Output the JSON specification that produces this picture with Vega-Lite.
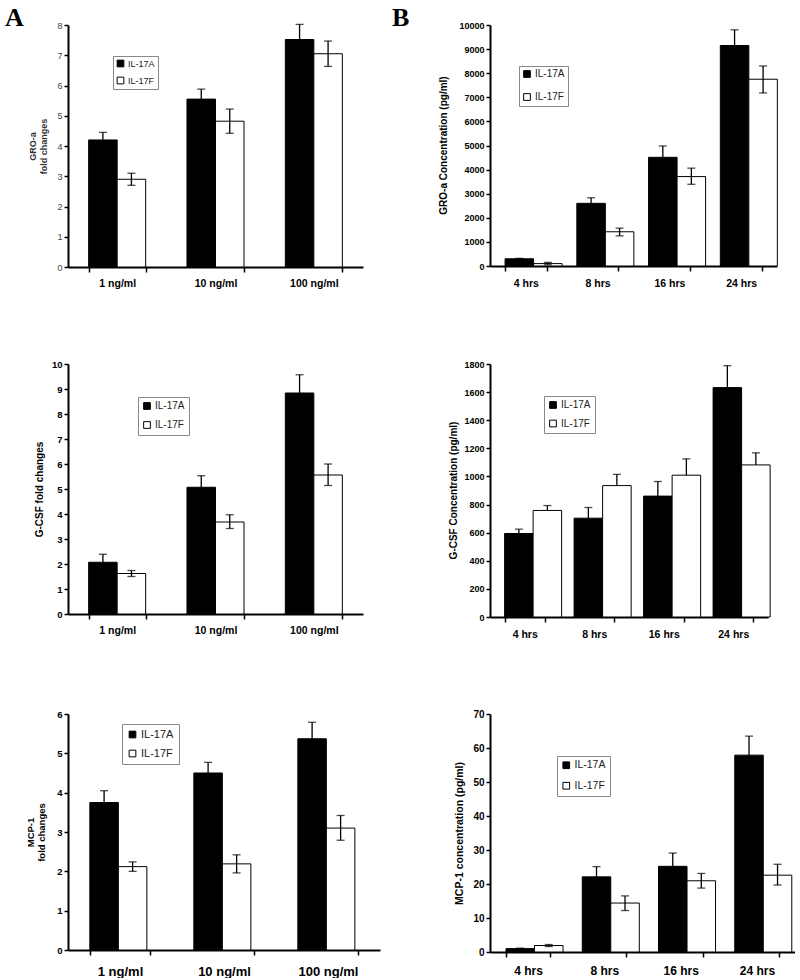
{
  "$schema": "https://vega.github.io/schema/vega-lite/v6.json",
  "autosize": {"type": "pad"},
  "padding": {"left": 5, "top": 5, "right": 0, "bottom": 0},
  "background": "white",
  "data": {"values": [
    {"panel": "A1", "cat": "1 ng/ml", "series": "IL-17A", "value": 4.2, "lo": 3.95, "hi": 4.45},
    {"panel": "A1", "cat": "1 ng/ml", "series": "IL-17F", "value": 2.9, "lo": 2.7, "hi": 3.1},
    {"panel": "A1", "cat": "10 ng/ml", "series": "IL-17A", "value": 5.55, "lo": 5.22, "hi": 5.88},
    {"panel": "A1", "cat": "10 ng/ml", "series": "IL-17F", "value": 4.82, "lo": 4.42, "hi": 5.22},
    {"panel": "A1", "cat": "100 ng/ml", "series": "IL-17A", "value": 7.52, "lo": 7.02, "hi": 8.02},
    {"panel": "A1", "cat": "100 ng/ml", "series": "IL-17F", "value": 7.05, "lo": 6.63, "hi": 7.47},
    {"panel": "B1", "cat": "4 hrs", "series": "IL-17A", "value": 300, "lo": 280, "hi": 320},
    {"panel": "B1", "cat": "4 hrs", "series": "IL-17F", "value": 100, "lo": 50, "hi": 150},
    {"panel": "B1", "cat": "8 hrs", "series": "IL-17A", "value": 2600, "lo": 2370, "hi": 2830},
    {"panel": "B1", "cat": "8 hrs", "series": "IL-17F", "value": 1420, "lo": 1250, "hi": 1570},
    {"panel": "B1", "cat": "16 hrs", "series": "IL-17A", "value": 4510, "lo": 4040, "hi": 4980},
    {"panel": "B1", "cat": "16 hrs", "series": "IL-17F", "value": 3710, "lo": 3390, "hi": 4060},
    {"panel": "B1", "cat": "24 hrs", "series": "IL-17A", "value": 9150, "lo": 8500, "hi": 9800},
    {"panel": "B1", "cat": "24 hrs", "series": "IL-17F", "value": 7750, "lo": 7180, "hi": 8300},
    {"panel": "A2", "cat": "1 ng/ml", "series": "IL-17A", "value": 2.07, "lo": 1.75, "hi": 2.39},
    {"panel": "A2", "cat": "1 ng/ml", "series": "IL-17F", "value": 1.62, "lo": 1.5, "hi": 1.74},
    {"panel": "A2", "cat": "10 ng/ml", "series": "IL-17A", "value": 5.07, "lo": 4.61, "hi": 5.53},
    {"panel": "A2", "cat": "10 ng/ml", "series": "IL-17F", "value": 3.68, "lo": 3.42, "hi": 3.97},
    {"panel": "A2", "cat": "100 ng/ml", "series": "IL-17A", "value": 8.84, "lo": 8.11, "hi": 9.57},
    {"panel": "A2", "cat": "100 ng/ml", "series": "IL-17F", "value": 5.56, "lo": 5.14, "hi": 6.0},
    {"panel": "B2", "cat": "4 hrs", "series": "IL-17A", "value": 594, "lo": 594, "hi": 625},
    {"panel": "B2", "cat": "4 hrs", "series": "IL-17F", "value": 758, "lo": 758, "hi": 793},
    {"panel": "B2", "cat": "8 hrs", "series": "IL-17A", "value": 703, "lo": 703, "hi": 779},
    {"panel": "B2", "cat": "8 hrs", "series": "IL-17F", "value": 935, "lo": 935, "hi": 1015},
    {"panel": "B2", "cat": "16 hrs", "series": "IL-17A", "value": 860, "lo": 860, "hi": 964},
    {"panel": "B2", "cat": "16 hrs", "series": "IL-17F", "value": 1009, "lo": 1009, "hi": 1125},
    {"panel": "B2", "cat": "24 hrs", "series": "IL-17A", "value": 1632, "lo": 1632, "hi": 1788},
    {"panel": "B2", "cat": "24 hrs", "series": "IL-17F", "value": 1082, "lo": 1082, "hi": 1168},
    {"panel": "A3", "cat": "1 ng/ml", "series": "IL-17A", "value": 3.75, "lo": 3.45, "hi": 4.05},
    {"panel": "A3", "cat": "1 ng/ml", "series": "IL-17F", "value": 2.12, "lo": 2.0, "hi": 2.24},
    {"panel": "A3", "cat": "10 ng/ml", "series": "IL-17A", "value": 4.5, "lo": 4.23, "hi": 4.77},
    {"panel": "A3", "cat": "10 ng/ml", "series": "IL-17F", "value": 2.19, "lo": 1.96, "hi": 2.42},
    {"panel": "A3", "cat": "100 ng/ml", "series": "IL-17A", "value": 5.37, "lo": 4.95, "hi": 5.79},
    {"panel": "A3", "cat": "100 ng/ml", "series": "IL-17F", "value": 3.1, "lo": 2.79, "hi": 3.42},
    {"panel": "B3", "cat": "4 hrs", "series": "IL-17A", "value": 1.0, "lo": 0.9, "hi": 1.1},
    {"panel": "B3", "cat": "4 hrs", "series": "IL-17F", "value": 1.9, "lo": 1.6, "hi": 2.2},
    {"panel": "B3", "cat": "8 hrs", "series": "IL-17A", "value": 22.1, "lo": 19.1, "hi": 25.1},
    {"panel": "B3", "cat": "8 hrs", "series": "IL-17F", "value": 14.4, "lo": 12.2, "hi": 16.5},
    {"panel": "B3", "cat": "16 hrs", "series": "IL-17A", "value": 25.2, "lo": 21.3, "hi": 29.1},
    {"panel": "B3", "cat": "16 hrs", "series": "IL-17F", "value": 20.95, "lo": 18.8, "hi": 23.1},
    {"panel": "B3", "cat": "24 hrs", "series": "IL-17A", "value": 57.9, "lo": 52.3, "hi": 63.5},
    {"panel": "B3", "cat": "24 hrs", "series": "IL-17F", "value": 22.6, "lo": 19.7, "hi": 25.8}
  ]},
  "columns": 2,
  "bounds": "flush",
  "align": "each",
  "spacing": {"row": 97, "column": 110},
  "resolve": {"scale": {"fill": "independent"}, "legend": {"fill": "independent"}},
  "concat": [
    {
      "width": 295, "height": 242,
      "title": {"text": "A", "anchor": "start", "frame": "group", "font": "Liberation Serif", "fontSize": 26, "fontWeight": "bold", "color": "black", "dx": -63, "offset": 0, "dy": 31, "baseline": "alphabetic"},
      "transform": [{"filter": "datum.panel === 'A1'"}],
      "encoding": {
        "x": {"field": "cat", "type": "nominal", "sort": ["1 ng/ml", "10 ng/ml", "100 ng/ml"], "scale": {"paddingInner": 0.42, "paddingOuter": 0.21},
              "axis": {"title": null, "tickBand": "extent", "tickSize": 5, "labelAngle": 0, "labelFontWeight": "bold", "labelFontSize": 10.5, "labelPadding": 6}},
        "xOffset": {"field": "series", "type": "nominal", "scale": {"paddingInner": 0, "paddingOuter": 0}}
      },
      "layer": [
        {"mark": {"type": "bar", "stroke": "black", "strokeWidth": 1},
         "encoding": {
           "y": {"field": "value", "type": "quantitative", "scale": {"domain": [0, 8], "nice": false},
                 "axis": {"values": [0,1,2,3,4,5,6,7,8], "labelOverlap": false, "title": ["GRO-a", "fold changes"], "titleX": -36, "titleY": 121, "titleBaseline": "middle", "titleFontSize": 9, "titleFontWeight": "bold", "titleColor": "#333", "labelFontSize": 9, "labelColor": "#444", "labelFontWeight": "normal"}},
           "fill": {"field": "series", "type": "nominal", "scale": {"domain": ["IL-17A", "IL-17F"], "range": ["black", "white"]},
                    "legend": {"orient": "none", "legendX": 45, "legendY": 31, "labelFontSize": 9, "rowPadding": 6, "padding": 3}}
         }},
        {"mark": {"type": "rule", "color": "black", "strokeWidth": 1.3}, "encoding": {"y": {"field": "lo", "type": "quantitative", "axis": {"values": [0,1,2,3,4,5,6,7,8], "labelOverlap": false, "title": ["GRO-a", "fold changes"], "titleX": -36, "titleY": 121, "titleBaseline": "middle", "titleFontSize": 9, "titleFontWeight": "bold", "titleColor": "#333", "labelFontSize": 9, "labelColor": "#444", "labelFontWeight": "normal"}}, "y2": {"field": "hi"}}},
        {"mark": {"type": "tick", "color": "black", "thickness": 1.3, "size": 8}, "encoding": {"y": {"field": "hi", "type": "quantitative", "axis": {"values": [0,1,2,3,4,5,6,7,8], "labelOverlap": false, "title": ["GRO-a", "fold changes"], "titleX": -36, "titleY": 121, "titleBaseline": "middle", "titleFontSize": 9, "titleFontWeight": "bold", "titleColor": "#333", "labelFontSize": 9, "labelColor": "#444", "labelFontWeight": "normal"}}}},
        {"transform": [{"filter": "datum.lo < datum.value"}], "mark": {"type": "tick", "color": "black", "thickness": 1.3, "size": 8}, "encoding": {"y": {"field": "lo", "type": "quantitative", "axis": {"values": [0,1,2,3,4,5,6,7,8], "labelOverlap": false, "title": ["GRO-a", "fold changes"], "titleX": -36, "titleY": 121, "titleBaseline": "middle", "titleFontSize": 9, "titleFontWeight": "bold", "titleColor": "#333", "labelFontSize": 9, "labelColor": "#444", "labelFontWeight": "normal"}}}}
      ]
    },
    {
      "width": 287, "height": 241,
      "title": {"text": "B", "anchor": "start", "frame": "group", "font": "Liberation Serif", "fontSize": 26, "fontWeight": "bold", "color": "black", "dx": -98, "offset": 0, "dy": 31, "baseline": "alphabetic"},
      "transform": [{"filter": "datum.panel === 'B1'"}],
      "encoding": {
        "x": {"field": "cat", "type": "nominal", "sort": ["4 hrs", "8 hrs", "16 hrs", "24 hrs"], "scale": {"paddingInner": 0.42, "paddingOuter": 0.21},
              "axis": {"title": null, "tickBand": "extent", "tickSize": 5, "labelAngle": 0, "labelFontWeight": "bold", "labelFontSize": 10.5, "labelPadding": 7}},
        "xOffset": {"field": "series", "type": "nominal", "scale": {"paddingInner": 0, "paddingOuter": 0}}
      },
      "layer": [
        {"mark": {"type": "bar", "stroke": "black", "strokeWidth": 1},
         "encoding": {
           "y": {"field": "value", "type": "quantitative", "scale": {"domain": [0, 10000], "nice": false},
                 "axis": {"values": [0,1000,2000,3000,4000,5000,6000,7000,8000,9000,10000], "labelOverlap": false, "format": "d", "title": "GRO-a Concentration (pg/ml)", "titleX": -47, "titleY": 120, "titleBaseline": "middle", "titleFontSize": 10, "titleFontWeight": "bold", "labelFontSize": 9, "labelFontWeight": "bold"}},
           "fill": {"field": "series", "type": "nominal", "scale": {"domain": ["IL-17A", "IL-17F"], "range": ["black", "white"]},
                    "legend": {"orient": "none", "legendX": 29, "legendY": 41, "labelFontSize": 10, "rowPadding": 11, "padding": 3}}
         }},
        {"mark": {"type": "rule", "color": "black", "strokeWidth": 1.3}, "encoding": {"y": {"field": "lo", "type": "quantitative", "axis": {"values": [0,1000,2000,3000,4000,5000,6000,7000,8000,9000,10000], "labelOverlap": false, "format": "d", "title": "GRO-a Concentration (pg/ml)", "titleX": -47, "titleY": 120, "titleBaseline": "middle", "titleFontSize": 10, "titleFontWeight": "bold", "labelFontSize": 9, "labelFontWeight": "bold"}}, "y2": {"field": "hi"}}},
        {"mark": {"type": "tick", "color": "black", "thickness": 1.3, "size": 8}, "encoding": {"y": {"field": "hi", "type": "quantitative", "axis": {"values": [0,1000,2000,3000,4000,5000,6000,7000,8000,9000,10000], "labelOverlap": false, "format": "d", "title": "GRO-a Concentration (pg/ml)", "titleX": -47, "titleY": 120, "titleBaseline": "middle", "titleFontSize": 10, "titleFontWeight": "bold", "labelFontSize": 9, "labelFontWeight": "bold"}}}},
        {"transform": [{"filter": "datum.lo < datum.value"}], "mark": {"type": "tick", "color": "black", "thickness": 1.3, "size": 8}, "encoding": {"y": {"field": "lo", "type": "quantitative", "axis": {"values": [0,1000,2000,3000,4000,5000,6000,7000,8000,9000,10000], "labelOverlap": false, "format": "d", "title": "GRO-a Concentration (pg/ml)", "titleX": -47, "titleY": 120, "titleBaseline": "middle", "titleFontSize": 10, "titleFontWeight": "bold", "labelFontSize": 9, "labelFontWeight": "bold"}}}}
      ]
    },
    {
      "width": 295, "height": 250,
      "transform": [{"filter": "datum.panel === 'A2'"}],
      "encoding": {
        "x": {"field": "cat", "type": "nominal", "sort": ["1 ng/ml", "10 ng/ml", "100 ng/ml"], "scale": {"paddingInner": 0.42, "paddingOuter": 0.21},
              "axis": {"title": null, "tickBand": "extent", "tickSize": 5, "labelAngle": 0, "labelFontWeight": "bold", "labelFontSize": 10.5, "labelPadding": 6}},
        "xOffset": {"field": "series", "type": "nominal", "scale": {"paddingInner": 0, "paddingOuter": 0}}
      },
      "layer": [
        {"mark": {"type": "bar", "stroke": "black", "strokeWidth": 1},
         "encoding": {
           "y": {"field": "value", "type": "quantitative", "scale": {"domain": [0, 10], "nice": false},
                 "axis": {"values": [0,1,2,3,4,5,6,7,8,9,10], "labelOverlap": false, "title": "G-CSF fold changes", "titleX": -29, "titleY": 125, "titleBaseline": "middle", "titleFontSize": 10, "titleFontWeight": "bold", "labelFontSize": 9.5, "labelFontWeight": "bold"}},
           "fill": {"field": "series", "type": "nominal", "scale": {"domain": ["IL-17A", "IL-17F"], "range": ["black", "white"]},
                    "legend": {"orient": "none", "legendX": 70, "legendY": 33, "labelFontSize": 10, "rowPadding": 7, "padding": 4}}
         }},
        {"mark": {"type": "rule", "color": "black", "strokeWidth": 1.3}, "encoding": {"y": {"field": "lo", "type": "quantitative", "axis": {"values": [0,1,2,3,4,5,6,7,8,9,10], "labelOverlap": false, "title": "G-CSF fold changes", "titleX": -29, "titleY": 125, "titleBaseline": "middle", "titleFontSize": 10, "titleFontWeight": "bold", "labelFontSize": 9.5, "labelFontWeight": "bold"}}, "y2": {"field": "hi"}}},
        {"mark": {"type": "tick", "color": "black", "thickness": 1.3, "size": 8}, "encoding": {"y": {"field": "hi", "type": "quantitative", "axis": {"values": [0,1,2,3,4,5,6,7,8,9,10], "labelOverlap": false, "title": "G-CSF fold changes", "titleX": -29, "titleY": 125, "titleBaseline": "middle", "titleFontSize": 10, "titleFontWeight": "bold", "labelFontSize": 9.5, "labelFontWeight": "bold"}}}},
        {"transform": [{"filter": "datum.lo < datum.value"}], "mark": {"type": "tick", "color": "black", "thickness": 1.3, "size": 8}, "encoding": {"y": {"field": "lo", "type": "quantitative", "axis": {"values": [0,1,2,3,4,5,6,7,8,9,10], "labelOverlap": false, "title": "G-CSF fold changes", "titleX": -29, "titleY": 125, "titleBaseline": "middle", "titleFontSize": 10, "titleFontWeight": "bold", "labelFontSize": 9.5, "labelFontWeight": "bold"}}}}
      ]
    },
    {
      "width": 278, "height": 253,
      "transform": [{"filter": "datum.panel === 'B2'"}],
      "encoding": {
        "x": {"field": "cat", "type": "nominal", "sort": ["4 hrs", "8 hrs", "16 hrs", "24 hrs"], "scale": {"paddingInner": 0.42, "paddingOuter": 0.21},
              "axis": {"title": null, "tickBand": "extent", "tickSize": 5, "labelAngle": 0, "labelFontWeight": "bold", "labelFontSize": 10.5, "labelPadding": 7}},
        "xOffset": {"field": "series", "type": "nominal", "scale": {"paddingInner": 0, "paddingOuter": 0}}
      },
      "layer": [
        {"mark": {"type": "bar", "stroke": "black", "strokeWidth": 1},
         "encoding": {
           "y": {"field": "value", "type": "quantitative", "scale": {"domain": [0, 1800], "nice": false},
                 "axis": {"values": [0,200,400,600,800,1000,1200,1400,1600,1800], "labelOverlap": false, "format": "d", "title": "G-CSF Concentration (pg/ml)", "titleX": -37, "titleY": 126, "titleBaseline": "middle", "titleFontSize": 10, "titleFontWeight": "bold", "labelFontSize": 9, "labelFontWeight": "bold"}},
           "fill": {"field": "series", "type": "nominal", "scale": {"domain": ["IL-17A", "IL-17F"], "range": ["black", "white"]},
                    "legend": {"orient": "none", "legendX": 54, "legendY": 32, "labelFontSize": 10, "rowPadding": 6.5, "padding": 4}}
         }},
        {"mark": {"type": "rule", "color": "black", "strokeWidth": 1.3}, "encoding": {"y": {"field": "lo", "type": "quantitative", "axis": {"values": [0,200,400,600,800,1000,1200,1400,1600,1800], "labelOverlap": false, "format": "d", "title": "G-CSF Concentration (pg/ml)", "titleX": -37, "titleY": 126, "titleBaseline": "middle", "titleFontSize": 10, "titleFontWeight": "bold", "labelFontSize": 9, "labelFontWeight": "bold"}}, "y2": {"field": "hi"}}},
        {"mark": {"type": "tick", "color": "black", "thickness": 1.3, "size": 8}, "encoding": {"y": {"field": "hi", "type": "quantitative", "axis": {"values": [0,200,400,600,800,1000,1200,1400,1600,1800], "labelOverlap": false, "format": "d", "title": "G-CSF Concentration (pg/ml)", "titleX": -37, "titleY": 126, "titleBaseline": "middle", "titleFontSize": 10, "titleFontWeight": "bold", "labelFontSize": 9, "labelFontWeight": "bold"}}}},
        {"transform": [{"filter": "datum.lo < datum.value"}], "mark": {"type": "tick", "color": "black", "thickness": 1.3, "size": 8}, "encoding": {"y": {"field": "lo", "type": "quantitative", "axis": {"values": [0,200,400,600,800,1000,1200,1400,1600,1800], "labelOverlap": false, "format": "d", "title": "G-CSF Concentration (pg/ml)", "titleX": -37, "titleY": 126, "titleBaseline": "middle", "titleFontSize": 10, "titleFontWeight": "bold", "labelFontSize": 9, "labelFontWeight": "bold"}}}}
      ]
    },
    {
      "width": 312, "height": 236,
      "transform": [{"filter": "datum.panel === 'A3'"}],
      "encoding": {
        "x": {"field": "cat", "type": "nominal", "sort": ["1 ng/ml", "10 ng/ml", "100 ng/ml"], "scale": {"paddingInner": 0.42, "paddingOuter": 0.21},
              "axis": {"title": null, "tickBand": "extent", "tickSize": 5, "labelAngle": 0, "labelFontWeight": "bold", "labelFontSize": 13, "labelPadding": 10}},
        "xOffset": {"field": "series", "type": "nominal", "scale": {"paddingInner": 0, "paddingOuter": 0}}
      },
      "layer": [
        {"mark": {"type": "bar", "stroke": "black", "strokeWidth": 1},
         "encoding": {
           "y": {"field": "value", "type": "quantitative", "scale": {"domain": [0, 6], "nice": false},
                 "axis": {"values": [0,1,2,3,4,5,6], "labelOverlap": false, "title": ["MCP-1", "fold changes"], "titleX": -38, "titleY": 118, "titleBaseline": "middle", "titleFontSize": 9.5, "titleFontWeight": "bold", "labelFontSize": 9.5, "labelFontWeight": "bold"}},
           "fill": {"field": "series", "type": "nominal", "scale": {"domain": ["IL-17A", "IL-17F"], "range": ["black", "white"]},
                    "legend": {"orient": "none", "legendX": 54, "legendY": 10, "labelFontSize": 11, "rowPadding": 7, "padding": 5}}
         }},
        {"mark": {"type": "rule", "color": "black", "strokeWidth": 1.3}, "encoding": {"y": {"field": "lo", "type": "quantitative", "axis": {"values": [0,1,2,3,4,5,6], "labelOverlap": false, "title": ["MCP-1", "fold changes"], "titleX": -38, "titleY": 118, "titleBaseline": "middle", "titleFontSize": 9.5, "titleFontWeight": "bold", "labelFontSize": 9.5, "labelFontWeight": "bold"}}, "y2": {"field": "hi"}}},
        {"mark": {"type": "tick", "color": "black", "thickness": 1.3, "size": 8}, "encoding": {"y": {"field": "hi", "type": "quantitative", "axis": {"values": [0,1,2,3,4,5,6], "labelOverlap": false, "title": ["MCP-1", "fold changes"], "titleX": -38, "titleY": 118, "titleBaseline": "middle", "titleFontSize": 9.5, "titleFontWeight": "bold", "labelFontSize": 9.5, "labelFontWeight": "bold"}}}},
        {"transform": [{"filter": "datum.lo < datum.value"}], "mark": {"type": "tick", "color": "black", "thickness": 1.3, "size": 8}, "encoding": {"y": {"field": "lo", "type": "quantitative", "axis": {"values": [0,1,2,3,4,5,6], "labelOverlap": false, "title": ["MCP-1", "fold changes"], "titleX": -38, "titleY": 118, "titleBaseline": "middle", "titleFontSize": 9.5, "titleFontWeight": "bold", "labelFontSize": 9.5, "labelFontWeight": "bold"}}}}
      ]
    },
    {
      "width": 305, "height": 238,
      "transform": [{"filter": "datum.panel === 'B3'"}],
      "encoding": {
        "x": {"field": "cat", "type": "nominal", "sort": ["4 hrs", "8 hrs", "16 hrs", "24 hrs"], "scale": {"paddingInner": 0.42, "paddingOuter": 0.21},
              "axis": {"title": null, "tickBand": "extent", "tickSize": 5, "labelAngle": 0, "labelFontWeight": "bold", "labelFontSize": 12, "labelPadding": 8}},
        "xOffset": {"field": "series", "type": "nominal", "scale": {"paddingInner": 0, "paddingOuter": 0}}
      },
      "layer": [
        {"mark": {"type": "bar", "stroke": "black", "strokeWidth": 1},
         "encoding": {
           "y": {"field": "value", "type": "quantitative", "scale": {"domain": [0, 70], "nice": false},
                 "axis": {"values": [0,10,20,30,40,50,60,70], "labelOverlap": false, "title": "MCP-1 concentration (pg/ml)", "titleX": -31, "titleY": 119, "titleBaseline": "middle", "titleFontSize": 10.5, "titleFontWeight": "bold", "labelFontSize": 10, "labelFontWeight": "bold"}},
           "fill": {"field": "series", "type": "nominal", "scale": {"domain": ["IL-17A", "IL-17F"], "range": ["black", "white"]},
                    "legend": {"orient": "none", "legendX": 67, "legendY": 42, "labelFontSize": 10.5, "rowPadding": 8.5, "padding": 4}}
         }},
        {"mark": {"type": "rule", "color": "black", "strokeWidth": 1.3}, "encoding": {"y": {"field": "lo", "type": "quantitative", "axis": {"values": [0,10,20,30,40,50,60,70], "labelOverlap": false, "title": "MCP-1 concentration (pg/ml)", "titleX": -31, "titleY": 119, "titleBaseline": "middle", "titleFontSize": 10.5, "titleFontWeight": "bold", "labelFontSize": 10, "labelFontWeight": "bold"}}, "y2": {"field": "hi"}}},
        {"mark": {"type": "tick", "color": "black", "thickness": 1.3, "size": 8}, "encoding": {"y": {"field": "hi", "type": "quantitative", "axis": {"values": [0,10,20,30,40,50,60,70], "labelOverlap": false, "title": "MCP-1 concentration (pg/ml)", "titleX": -31, "titleY": 119, "titleBaseline": "middle", "titleFontSize": 10.5, "titleFontWeight": "bold", "labelFontSize": 10, "labelFontWeight": "bold"}}}},
        {"transform": [{"filter": "datum.lo < datum.value"}], "mark": {"type": "tick", "color": "black", "thickness": 1.3, "size": 8}, "encoding": {"y": {"field": "lo", "type": "quantitative", "axis": {"values": [0,10,20,30,40,50,60,70], "labelOverlap": false, "title": "MCP-1 concentration (pg/ml)", "titleX": -31, "titleY": 119, "titleBaseline": "middle", "titleFontSize": 10.5, "titleFontWeight": "bold", "labelFontSize": 10, "labelFontWeight": "bold"}}}}
      ]
    }
  ],
  "config": {
    "font": "Liberation Sans",
    "view": {"stroke": null},
    "axis": {"grid": false, "labelOverlap": false, "domainColor": "black", "domainWidth": 2, "tickColor": "black", "tickWidth": 1.5, "tickSize": 4, "labelColor": "black", "titleColor": "black", "labelFont": "Liberation Sans", "titleFont": "Liberation Sans", "labelPadding": 2},
    "legend": {"title": null, "symbolType": "square", "symbolSize": 45, "symbolStrokeColor": "black", "symbolStrokeWidth": 1, "labelFont": "Liberation Sans", "labelColor": "#222", "labelOffset": 3, "strokeColor": "#888", "strokeWidth": 1, "fillColor": "white"}
  }
}
